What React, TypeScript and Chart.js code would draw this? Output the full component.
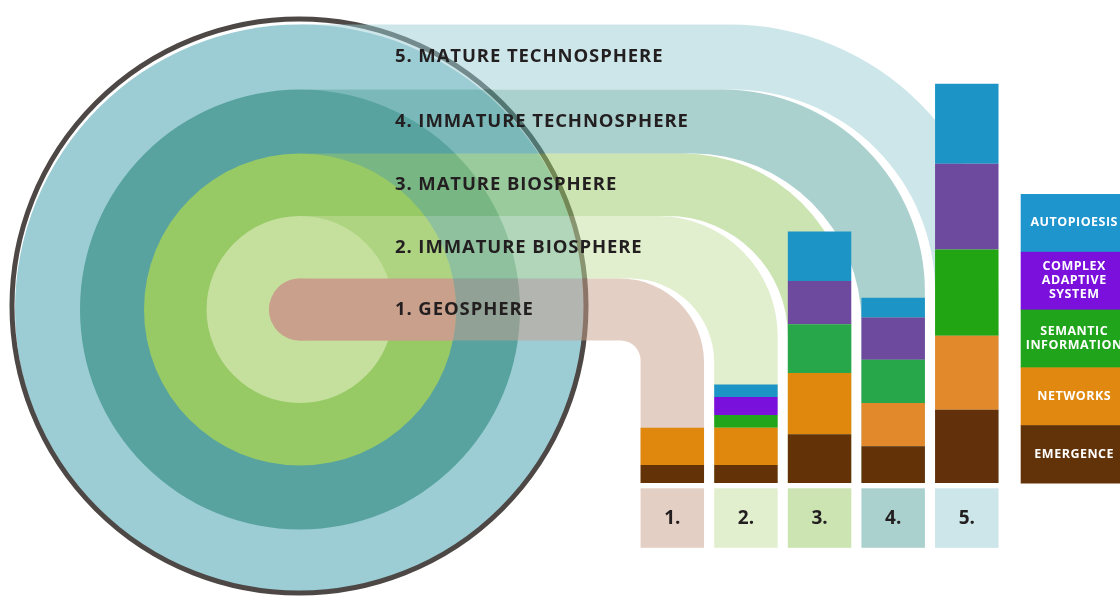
import React, { useEffect, useRef } from 'react';
import { Chart, registerables } from 'chart.js';

Chart.register(...registerables);

// ---------- data ----------
const stages = ['1.', '2.', '3.', '4.', '5.'];
const stageNames = [
  '1. GEOSPHERE',
  '2. IMMATURE BIOSPHERE',
  '3. MATURE BIOSPHERE',
  '4. IMMATURE TECHNOSPHERE',
  '5. MATURE TECHNOSPHERE',
];
const emergence = [4.5, 4.5, 12.2, 9.2, 18.3];
const networks = [9.3, 9.3, 15.3, 10.8, 18.5];
const semanticInformation = [0, 3.2, 12.2, 10.8, 21.6];
const complexAdaptiveSystem = [0, 4.5, 10.8, 10.6, 21.4];
const autopoiesis = [0, 3.1, 12.4, 4.9, 20.0];
const legendLabels = [
  ['AUTOPIOESIS'],
  ['COMPLEX', 'ADAPTIVE', 'SYSTEM'],
  ['SEMANTIC', 'INFORMATION'],
  ['NETWORKS'],
  ['EMERGENCE'],
];

// ---------- styles ----------
const stageColors = ['#c9a08c', '#c5e09d', '#97c965', '#58a3a0', '#9ccdd5'];
const emergenceColors = ['#633207', '#633207', '#633207', '#633207', '#62300a'];
const networksColors = ['#e0870d', '#e0870d', '#e0870d', '#e28a2b', '#e28a2b'];
const semanticColors = ['#22a51a', '#22a51a', '#27a64a', '#27a64a', '#22a512'];
const complexColors = ['#7a10dc', '#7a10dc', '#6e4a9e', '#6e4a9e', '#6e4a9e'];
const autopoiesisColors = ['#1c95c6', '#1c95c6', '#1c95c6', '#1c95c6', '#1c95c6'];
const legendColors = ['#1e95cd', '#7b0fdc', '#20a41b', '#e0880f', '#623208'];

const LAYOUT = {
  cx: 300,
  cy: 309.5,
  ringRadii: [31, 93.5, 156, 220, 285],
  outline: { cx: 299, cy: 306, r: 287, width: 5, color: '#4d4845' },
  bendRadii: [20, 84, 120, 169, 202, 269],
  labelGap: 5.3,
  labelHeight: 59.5,
  legendLeft: 1020.7,
  legendWidth: 107,
  legendTop: 194,
  textX: 395,
  font: '"Open Sans", "DejaVu Sans", sans-serif',
  textColor: '#231f20',
};

const artPlugin = {
  id: 'evolutionArt',
  beforeDatasetsDraw(chart: any) {
    const ctx: CanvasRenderingContext2D = chart.ctx;
    const { cx, cy, ringRadii, outline, bendRadii } = LAYOUT;
    const meta = chart.getDatasetMeta(0);
    const base = chart.scales.y.getPixelForValue(0);
    ctx.save();
    // concentric rings
    for (let k = ringRadii.length - 1; k >= 0; k--) {
      ctx.beginPath();
      ctx.arc(cx, cy, ringRadii[k], 0, Math.PI * 2);
      ctx.fillStyle = stageColors[k];
      ctx.fill();
    }
    // geosphere core through inner rings
    ctx.save();
    ctx.beginPath();
    ctx.arc(cx, cy, ringRadii[2], 0, Math.PI * 2);
    ctx.clip();
    ctx.fillStyle = stageColors[0];
    ctx.fillRect(cx, cy - ringRadii[0], ringRadii[2], ringRadii[0] * 2);
    ctx.restore();
    // outline circle
    ctx.beginPath();
    ctx.arc(outline.cx, outline.cy, outline.r, 0, Math.PI * 2);
    ctx.strokeStyle = outline.color;
    ctx.lineWidth = outline.width;
    ctx.stroke();
    // tubes
    for (let k = 0; k < stages.length; k++) {
      const bar = meta.data[k].getProps(['x', 'width'], true);
      const L = bar.x - bar.width / 2;
      const R = bar.x + bar.width / 2;
      const top = cy - ringRadii[k];
      const bottom = k === 0 ? cy + ringRadii[0] : cy - ringRadii[k - 1];
      const ri = bendRadii[k];
      const ro = bendRadii[k + 1];
      ctx.beginPath();
      ctx.moveTo(cx, top);
      ctx.lineTo(R - ro, top);
      ctx.arc(R - ro, top + ro, ro, -Math.PI / 2, 0);
      ctx.lineTo(R, base);
      ctx.lineTo(L, base);
      ctx.lineTo(L, bottom + ri);
      ctx.arc(L - ri, bottom + ri, ri, 0, -Math.PI / 2, true);
      ctx.lineTo(cx, bottom);
      if (k === 0) {
        ctx.arc(cx, cy, ringRadii[0], Math.PI / 2, (3 * Math.PI) / 2);
      }
      ctx.closePath();
      ctx.globalAlpha = 0.5;
      ctx.fillStyle = stageColors[k];
      ctx.fill();
      ctx.globalAlpha = 1;
    }
    ctx.restore();
  },
  afterDatasetsDraw(chart: any) {
    const ctx: CanvasRenderingContext2D = chart.ctx;
    const { cy, ringRadii } = LAYOUT;
    const meta = chart.getDatasetMeta(0);
    const base = chart.scales.y.getPixelForValue(0);
    ctx.save();
    // stage names
    ctx.font = `bold 18.5px ${LAYOUT.font}`;
    (ctx as any).letterSpacing = '0.9px';
    ctx.fillStyle = LAYOUT.textColor;
    ctx.textBaseline = 'middle';
    ctx.textAlign = 'left';
    for (let k = 0; k < stageNames.length; k++) {
      const top = cy - ringRadii[k];
      const bottom = k === 0 ? cy + ringRadii[0] : cy - ringRadii[k - 1];
      ctx.fillText(stageNames[k], LAYOUT.textX, (top + bottom) / 2);
    }
    // number boxes under bars
    ctx.font = `bold 19px ${LAYOUT.font}`;
    (ctx as any).letterSpacing = '0px';
    ctx.textAlign = 'center';
    for (let k = 0; k < stages.length; k++) {
      const bar = meta.data[k].getProps(['x', 'width'], true);
      const y0 = base + LAYOUT.labelGap;
      ctx.globalAlpha = 0.5;
      ctx.fillStyle = stageColors[k];
      ctx.fillRect(bar.x - bar.width / 2, y0, bar.width, LAYOUT.labelHeight);
      ctx.globalAlpha = 1;
      ctx.fillStyle = LAYOUT.textColor;
      ctx.fillText(stages[k], bar.x, y0 + LAYOUT.labelHeight / 2 + 1);
    }
    // legend
    const cellH = (base - LAYOUT.legendTop) / legendLabels.length;
    ctx.font = `bold 12.5px ${LAYOUT.font}`;
    (ctx as any).letterSpacing = '0.5px';
    for (let i = 0; i < legendLabels.length; i++) {
      const y = LAYOUT.legendTop + i * cellH;
      ctx.fillStyle = legendColors[i];
      ctx.fillRect(LAYOUT.legendLeft, y, LAYOUT.legendWidth, cellH + 0.5);
      ctx.fillStyle = '#ffffff';
      const lines = legendLabels[i];
      const lh = 14;
      const mid = y + cellH / 2;
      lines.forEach((ln, j) => {
        ctx.fillText(ln, LAYOUT.legendLeft + LAYOUT.legendWidth / 2, mid + (j - (lines.length - 1) / 2) * lh);
      });
    }
    ctx.restore();
  },
};

export default function App() {
  const canvasRef = useRef<HTMLCanvasElement | null>(null);
  useEffect(() => {
    const canvas = canvasRef.current;
    if (!canvas) return;
    const chart = new Chart(canvas, {
      type: 'bar',
      data: {
        labels: stages,
        datasets: [
          { label: 'EMERGENCE', data: emergence, backgroundColor: emergenceColors },
          { label: 'NETWORKS', data: networks, backgroundColor: networksColors },
          { label: 'SEMANTIC INFORMATION', data: semanticInformation, backgroundColor: semanticColors },
          { label: 'COMPLEX ADAPTIVE SYSTEM', data: complexAdaptiveSystem, backgroundColor: complexColors },
          { label: 'AUTOPIOESIS', data: autopoiesis, backgroundColor: autopoiesisColors },
        ],
      },
      options: {
        responsive: false,
        animation: false,
        devicePixelRatio: 1,
        layout: { padding: { left: 635.5, right: 116.4, top: 0, bottom: 113 } },
        plugins: { legend: { display: false }, tooltip: { enabled: false } },
        datasets: { bar: { barPercentage: 0.862, categoryPercentage: 1, borderWidth: 0 } },
        scales: {
          x: { type: 'category', stacked: true, display: false, offset: true },
          y: { stacked: true, display: false, min: 0, max: 120.75 },
        },
      },
      plugins: [artPlugin],
    } as any);
    return () => chart.destroy();
  }, []);
  return (
    <div style={{ position: 'fixed', left: 0, top: 0, width: 1120, height: 596, background: '#ffffff', overflow: 'hidden' }}>
      <canvas ref={canvasRef} width={1120} height={596} style={{ display: 'block' }} />
    </div>
  );
}
